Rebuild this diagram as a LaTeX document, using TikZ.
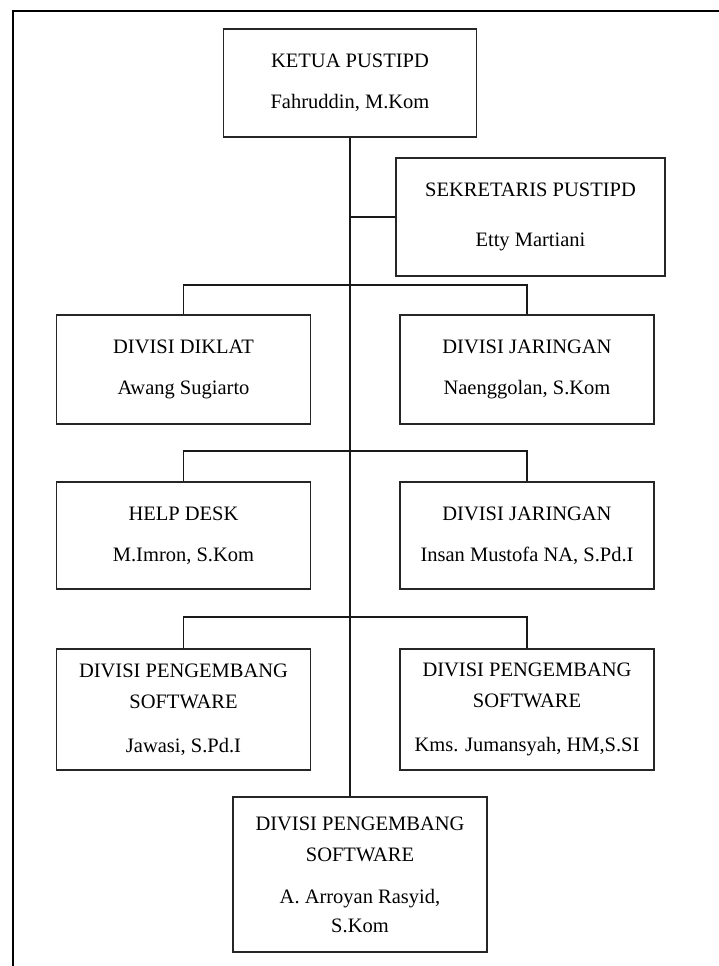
\documentclass[tikz,border=0pt]{standalone}
\usepackage{fontspec}
\setmainfont{Liberation Serif}
\usepackage{tikz}
\usetikzlibrary{calc}
\tikzset{
   org node/.style={rectangle,draw=black!85,line width=1.4pt,align=center,
                    font=\fontsize{20.5}{24}\selectfont,inner sep=2pt},
   div node/.style={org node,minimum width=254pt},
   link/.style={draw=black!90,line width=1.2pt}
}

\begin{document}
\begin{tikzpicture}[x=1pt,y=-1pt]
\useasboundingbox (0,0) rectangle (719,966);
\draw[line width=1.8pt] (13,966) -- (13,11) -- (719,11);
%
\node[org node,minimum width=253pt,minimum height=108pt] (ketua) at (350,83)
  {KETUA PUSTIPD\\[17pt]Fahruddin, M.Kom};
\node[org node,minimum width=269pt,minimum height=118pt] (sekretaris) at (530.5,217)
  {SEKRETARIS PUSTIPD\\[26pt]Etty Martiani};
\node[div node,minimum height=109pt] (diklat)    at (183.5,369.5) {DIVISI DIKLAT\\[17pt]Awang Sugiarto};
\node[div node,minimum height=109pt] (jaringan1) at (527,369.5)   {DIVISI JARINGAN\\[17pt]Naenggolan, S.Kom};
\node[div node,minimum height=107pt] (helpdesk)  at (183.5,535.5) {HELP DESK\\[17pt]M.Imron, S.Kom};
\node[div node,minimum height=107pt] (jaringan2) at (527,535.5)   {DIVISI JARINGAN\\[17pt]Insan Mustofa NA, S.Pd.I};
\node[div node,minimum height=121pt] (software1) at (183.5,709.5)
  {DIVISI PENGEMBANG\\[7pt]SOFTWARE\\[20pt]Jawasi, S.Pd.I};
\node[div node,minimum height=121pt] (software2) at (527,709.5)
  {DIVISI PENGEMBANG\\[7pt]SOFTWARE\\[20pt]Kms. Jumansyah, HM,S.SI};
\node[div node,minimum height=155pt] (software3) at (360,874.5)
  {DIVISI PENGEMBANG\\[7pt]SOFTWARE\\[18pt]A. Arroyan Rasyid,\\[5pt]S.Kom};
%
\coordinate (bar1) at (350,285);
\coordinate (bar2) at (350,451);
\coordinate (bar3) at (350,617);
\draw[link] (ketua.south) -- (ketua.south |- software3.north);
\draw[link] (sekretaris.west) -- (sekretaris.west -| ketua.south);
\draw[link] (diklat.north) |- (bar1) -| (jaringan1.north);
\draw[link] (helpdesk.north) |- (bar2) -| (jaringan2.north);
\draw[link] (software1.north) |- (bar3) -| (software2.north);

\end{tikzpicture}
\end{document}
